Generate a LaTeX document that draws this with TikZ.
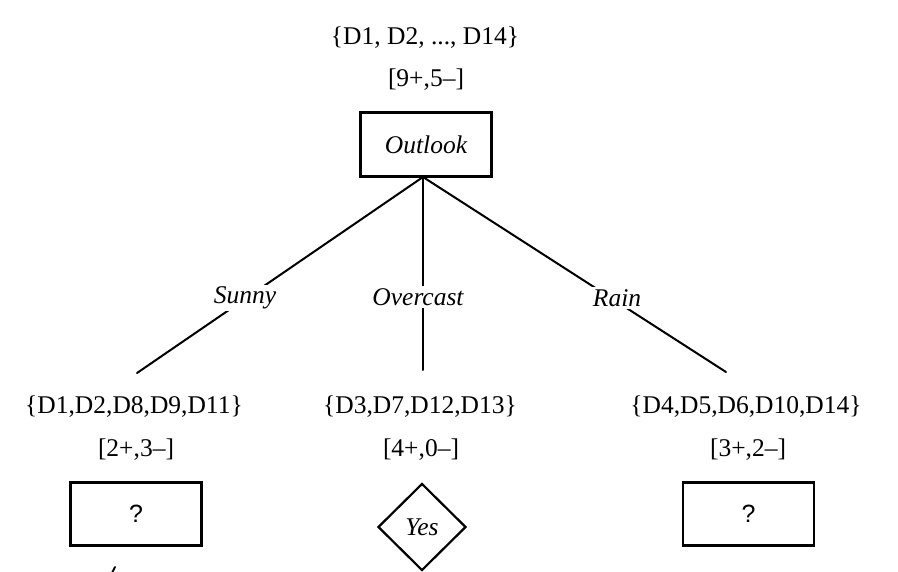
\documentclass[tikz,border=0pt]{standalone}
\usepackage{fontspec}
\setmainfont{Liberation Serif}
\newfontfamily\sansq{Liberation Sans}
\usetikzlibrary{shapes.geometric}
\begin{document}
\begin{tikzpicture}[x=1pt,y=-1pt,
  txt/.style={inner sep=0pt, font=\fontsize{25.5}{30}\selectfont},
  attrbox/.style={draw, line width=2.2pt, minimum width=131pt, minimum height=64pt, inner sep=0pt, font=\fontsize{25.5}{30}\selectfont\itshape},
  leafbox/.style={draw, line width=2.2pt, minimum width=131pt, minimum height=63pt, inner sep=0pt, font=\fontsize{25}{30}\sansq},
  yesdia/.style={draw, diamond, aspect=1, line width=2.2pt, minimum width=88pt, minimum height=87pt, inner sep=0pt, font=\fontsize{25.5}{30}\selectfont\itshape},
  edge/.style={line width=2pt, line cap=round},
  elabel/.style={fill=white, inner sep=2pt, font=\fontsize{25.5}{30}\selectfont\itshape}]
\useasboundingbox (0,0) rectangle (898,571);
\fill[white] (0,0) rectangle (898,571);

% root
\node[txt] (rootset) at (425,38) {\{D1, D2, ..., D14\}};
\node[txt] (rootcnt) at (426,80) {[9+,5--]};
\node[attrbox] (root) at (426,144.5) {Outlook};
\coordinate (fork) at (423,177);

% branch ends
\coordinate (sunnyend) at (137,373);
\coordinate (overend) at (423,370);
\coordinate (rainend) at (726,372);

\draw[edge] (fork) -- (sunnyend);
\draw[edge] (fork) -- (overend);
\draw[edge] (fork) -- (rainend);

\node[elabel] (sunnylbl) at (245,298) {Sunny};
\node[elabel] (overlbl) at (418,297) {Overcast};
\node[elabel] (rainlbl) at (617,298) {Rain};

% sunny leaf
\node[txt] (sunnyset) at (134,407) {\{D1,D2,D8,D9,D11\}};
\node[txt] (sunnycnt) at (136,450) {[2+,3--]};
\node[leafbox] (sunnybox) at (136,514) {?};

% overcast leaf
\node[txt] (overset) at (420,407) {\{D3,D7,D12,D13\}};
\node[txt] (overcnt) at (421,450) {[4+,0--]};
\node[yesdia] (yes) at (422,527) {Yes};

% rain leaf
\node[txt] (rainset) at (746,407) {\{D4,D5,D6,D10,D14\}};
\node[txt] (raincnt) at (748,450) {[3+,2--]};
\node[leafbox] (rainbox) at (748.5,514) {?};

% cut-off stroke at bottom edge
\coordinate (marka) at (115,567);
\coordinate (markb) at (112,573);
\draw[edge] (marka) -- (markb);
\end{tikzpicture}
\end{document}
